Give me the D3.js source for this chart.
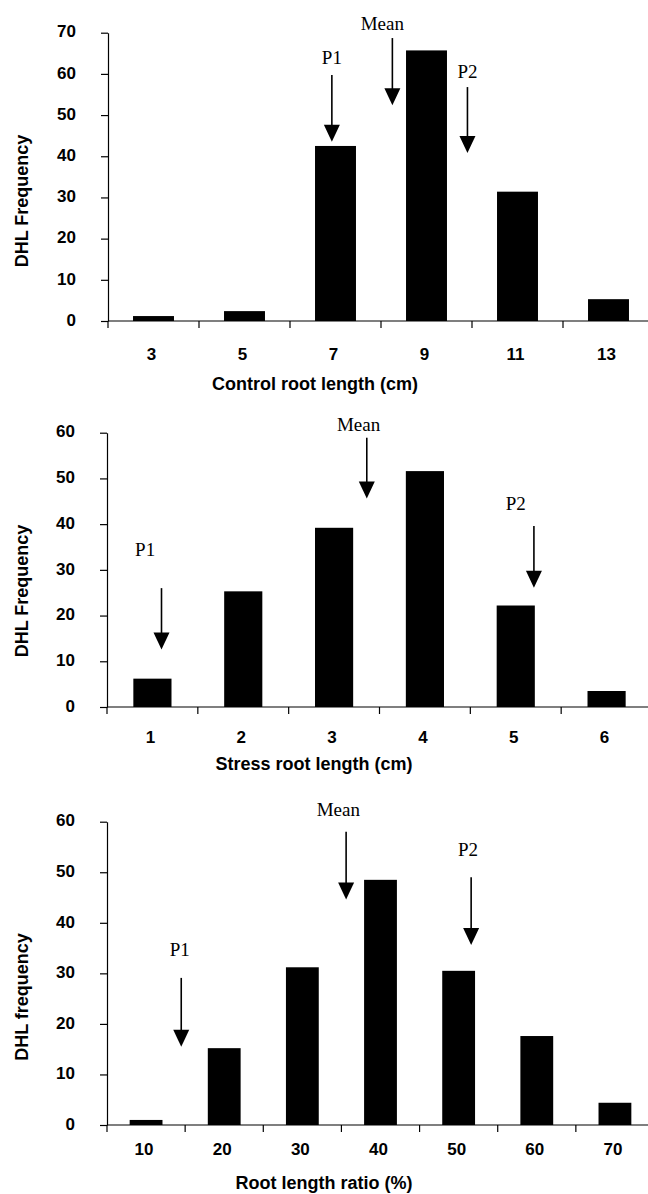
<!DOCTYPE html>
<html>
<head>
<meta charset="utf-8">
<script src="https://cdn.jsdelivr.net/npm/d3@7"></script>
<style>
  body { margin: 0; background: #fff; }
  svg { display: block; }
</style>
</head>
<body>
<div id="chart"></div>
<script>
// Panel 1: control root length
const ctrlCats = ['3', '5', '7', '9', '11', '13'];
const ctrlFreq = [1.2, 2.4, 42.5, 65.7, 31.4, 5.3];
const ctrlYTicks = [0, 10, 20, 30, 40, 50, 60, 70];

// Panel 2: stress root length
const stressCats = ['1', '2', '3', '4', '5', '6'];
const stressFreq = [6.2, 25.3, 39.2, 51.6, 22.2, 3.5];
const stressYTicks = [0, 10, 20, 30, 40, 50, 60];

// Panel 3: root length ratio
const ratioCats = ['10', '20', '30', '40', '50', '60', '70'];
const ratioFreq = [1, 15.2, 31.2, 48.5, 30.5, 17.6, 4.4];
const ratioYTicks = [0, 10, 20, 30, 40, 50, 60];

// markers (P1, Mean, P2) on the x value scale
const markNames = ['P1', 'Mean', 'P2'];
const ctrlMarkX = [6.92, 8.25, 9.9];
const stressMarkX = [1.1, 3.36, 5.2];
const ratioMarkX = [14.5, 35.6, 51.6];

const width = 648, height = 1194;

const svg = d3.select('#chart').append('svg')
  .attr('width', width)
  .attr('height', height);

const sans = "'Liberation Sans', Arial, sans-serif";
const serif = "'Liberation Serif', 'Times New Roman', serif";

function drawPanel(cfg) {
  const n = cfg.cats.length;
  const x = d3.scaleBand()
    .domain(cfg.cats)
    .range([cfg.left, cfg.right])
    .paddingInner(cfg.pad)
    .paddingOuter(cfg.pad / 2);
  const y = d3.scaleLinear().domain([0, cfg.yMax]).range([cfg.y0, cfg.yTop]);
  const half = x.bandwidth() / 2;
  // continuous scale for the arrows
  const xv = d3.scaleLinear()
    .domain([+cfg.cats[0], +cfg.cats[n - 1]])
    .range([x(cfg.cats[0]) + half, x(cfg.cats[n - 1]) + half]);

  const g = svg.append('g');

  // bars
  g.selectAll('rect.bar')
    .data(cfg.cats.map((c, i) => ({ c, v: cfg.vals[i] })))
    .enter()
    .append('rect')
    .attr('class', 'bar')
    .attr('x', d => x(d.c))
    .attr('width', x.bandwidth())
    .attr('y', d => y(d.v))
    .attr('height', d => y(0) - y(d.v))
    .attr('fill', '#000');

  // y axis
  const ya = g.append('g')
    .attr('transform', `translate(${cfg.left},0)`)
    .call(d3.axisLeft(y).tickValues(cfg.yTicks).tickSize(7).tickPadding(25).tickSizeOuter(0));
  ya.selectAll('text')
    .attr('font-family', sans)
    .attr('font-weight', 'bold')
    .attr('font-size', 17)
    .attr('fill', '#000')
    .attr('dy', '0.25em');
  ya.selectAll('line, path').attr('stroke', '#000').attr('stroke-width', 1.2);

  // x axis line + ticks at category boundaries
  g.append('line')
    .attr('x1', cfg.left).attr('x2', cfg.right)
    .attr('y1', y(0)).attr('y2', y(0))
    .attr('stroke', '#000').attr('stroke-width', 1.2);
  const gap = (x.step() - x.bandwidth()) / 2;
  g.selectAll('line.xt')
    .data(cfg.cats)
    .enter()
    .append('line')
    .attr('class', 'xt')
    .attr('x1', d => x(d) - gap).attr('x2', d => x(d) - gap)
    .attr('y1', y(0)).attr('y2', y(0) + 7)
    .attr('stroke', '#000').attr('stroke-width', 1.2);

  g.selectAll('text.xl')
    .data(cfg.cats)
    .enter()
    .append('text')
    .attr('class', 'xl')
    .attr('x', d => x(d) + half - 2)
    .attr('y', y(0) + cfg.tickDy)
    .attr('text-anchor', 'middle')
    .attr('font-family', sans)
    .attr('font-weight', 'bold')
    .attr('font-size', 17)
    .text(d => d);

  // titles
  g.append('text')
    .attr('x', cfg.xTitleX)
    .attr('y', y(0) + cfg.titleDy)
    .attr('text-anchor', 'middle')
    .attr('font-family', sans)
    .attr('font-weight', 'bold')
    .attr('font-size', 18)
    .text(cfg.xTitle);

  g.append('text')
    .attr('transform', `translate(28,${cfg.yTitleY}) rotate(-90)`)
    .attr('text-anchor', 'middle')
    .attr('font-family', sans)
    .attr('font-weight', 'bold')
    .attr('font-size', 18)
    .text(cfg.yTitle);

  // arrows
  markNames.forEach((name, i) => {
    const ax = xv(cfg.markX[i]);
    const top = y(cfg.arrowTop[i]);
    const tip = y(cfg.arrowTip[i]);
    g.append('line')
      .attr('x1', ax).attr('x2', ax)
      .attr('y1', top).attr('y2', tip - 10)
      .attr('stroke', '#000').attr('stroke-width', 1.6);
    g.append('path')
      .attr('d', `M${ax - 8},${tip - 17}L${ax + 8},${tip - 17}L${ax},${tip}Z`)
      .attr('fill', '#000');
    g.append('text')
      .attr('x', xv(cfg.textX[i]))
      .attr('y', y(cfg.textY[i]))
      .attr('text-anchor', 'middle')
      .attr('font-family', serif)
      .attr('font-size', 19)
      .text(name);
  });
}

drawPanel({
  cats: ctrlCats, vals: ctrlFreq, yTicks: ctrlYTicks, yMax: 70,
  left: 108, right: 654, y0: 321, yTop: 32.7, pad: 0.55,
  tickDy: 39, titleDy: 69, xTitleX: 315, yTitleY: 201,
  xTitle: 'Control root length (cm)', yTitle: 'DHL Frequency',
  markX: ctrlMarkX, textX: [6.92, 8.03, 9.9],
  arrowTop: [59.7, 68.7, 56.8], arrowTip: [43.5, 52.4, 40.8], textY: [62.4, 70.6, 59]
});

drawPanel({
  cats: stressCats, vals: stressFreq, yTicks: stressYTicks, yMax: 60,
  left: 107, right: 652, y0: 707, yTop: 432.7, pad: 0.58,
  tickDy: 36, titleDy: 63, xTitleX: 314, yTitleY: 591,
  xTitle: 'Stress root length (cm)', yTitle: 'DHL Frequency',
  markX: stressMarkX, textX: [0.92, 3.27, 5.0],
  arrowTop: [26, 58.9, 39.6], arrowTip: [12.6, 45.6, 26.1], textY: [33, 60.4, 43.1]
});

drawPanel({
  cats: ratioCats, vals: ratioFreq, yTicks: ratioYTicks, yMax: 60,
  left: 107, right: 654, y0: 1125, yTop: 821.7, pad: 0.58,
  tickDy: 30, titleDy: 64, xTitleX: 324, yTitleY: 997,
  xTitle: 'Root length ratio (%)', yTitle: 'DHL frequency',
  markX: ratioMarkX, textX: [14.3, 34.6, 51.2],
  arrowTop: [29.1, 58, 49], arrowTip: [15.5, 44.6, 35.6], textY: [33.4, 61.1, 53.2]
});
</script>
</body>
</html>
